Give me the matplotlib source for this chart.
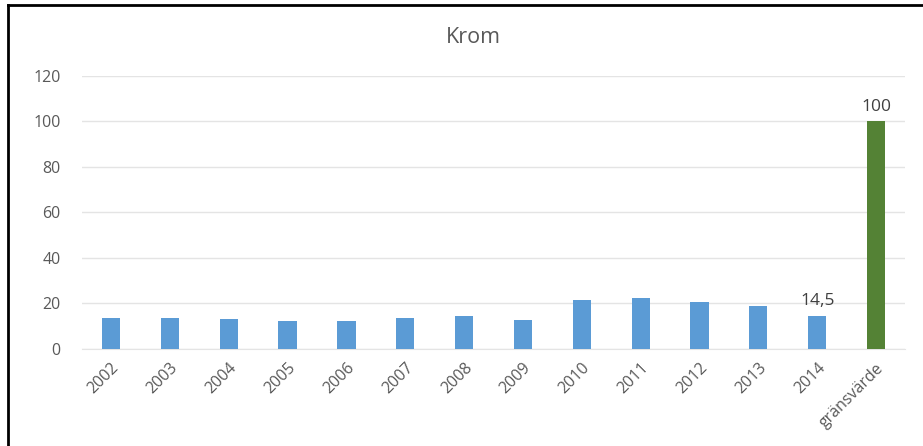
import matplotlib
matplotlib.use("Agg")
import matplotlib.pyplot as plt
from matplotlib.lines import Line2D

categories = ["2002", "2003", "2004", "2005", "2006", "2007", "2008",
              "2009", "2010", "2011", "2012", "2013", "2014", "gränsvärde"]
values = [13.8, 13.8, 13.2, 12.4, 12.1, 13.8, 14.6,
          12.9, 21.4, 22.6, 20.7, 19.0, 14.5, 100]
bar_colors = ["#5b9bd5"] * 13 + ["#548235"]
labels = {12: "14,5", 13: "100"}  # datalabels for 2014 and gränsvärde

plt.rcParams['font.family'] = ['Open Sans', 'DejaVu Sans']

fig = plt.figure(figsize=(9.23, 4.46), dpi=100)
ax = fig.add_axes([0.0884, 0.2175, 0.8926, 0.6121])

x = list(range(len(categories)))
ax.bar(x, values, width=0.31, color=bar_colors, zorder=3)

for i, txt in labels.items():
    ax.text(x[i], values[i] + 3, txt, ha='center', va='bottom',
            fontsize=12.5, color='#404040')

ax.set_xlim(-0.5, len(categories) - 0.5)
ax.set_ylim(0, 120)
ax.set_yticks(range(0, 121, 20))
ax.yaxis.grid(True, color='#e4e4e4', linewidth=1)
ax.set_axisbelow(True)
for s in ['top', 'right', 'left']:
    ax.spines[s].set_visible(False)
ax.spines['bottom'].set_color('#e4e4e4')
ax.tick_params(length=0, colors='#595959', labelsize=11.5)
ax.tick_params(axis='y', pad=15)
ax.tick_params(axis='x', pad=8)
ax.set_xticks(x)
ax.set_xticklabels(categories, rotation=45, ha='right',
                   rotation_mode='anchor')

fig.text(0.513, 0.915, "Krom", ha='center', va='center',
         fontsize=15.5, color='#595959')

# black frame on the left and top
fig.add_artist(Line2D([0.009, 0.009], [0, 0.989], transform=fig.transFigure,
                      color='black', linewidth=2))
fig.add_artist(Line2D([0.009, 1.0], [0.989, 0.989], transform=fig.transFigure,
                      color='black', linewidth=2))

fig.savefig("out.png", dpi=100)
